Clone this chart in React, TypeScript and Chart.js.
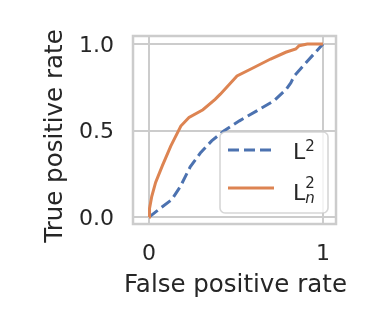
import React, { useEffect, useRef } from "react";
import { Chart, registerables } from "chart.js";

Chart.register(...registerables);

// ROC curves: false positive rate (x) vs true positive rate (y)
const l2FalsePositive = [0, 0.064, 0.13, 0.18, 0.237, 0.295, 0.36, 0.43, 0.52, 0.622, 0.719, 0.79, 0.815, 0.835, 0.91, 1];
const l2TruePositive = [0, 0.05, 0.1, 0.176, 0.29, 0.37, 0.44, 0.497, 0.556, 0.615, 0.672, 0.74, 0.775, 0.815, 0.9, 1];

const ln2FalsePositive = [0, 0.003, 0.016, 0.038, 0.077, 0.125, 0.183, 0.23, 0.31, 0.38, 0.41, 0.506, 0.603, 0.699, 0.786, 0.844, 0.863, 0.91, 1];
const ln2TruePositive = [0, 0.05, 0.12, 0.2, 0.297, 0.41, 0.526, 0.575, 0.62, 0.68, 0.71, 0.815, 0.864, 0.913, 0.952, 0.971, 0.99, 1, 1];

const xTickValues = [0, 1];
const xTickLabels = ["0", "1"];
const yTickValues = [0, 0.5, 1];
const yTickLabels = ["0.0", "0.5", "1.0"];

const xTitle = "False positive rate";
const yTitle = "True positive rate";

const FONT = "'DejaVu Sans', 'Liberation Sans', sans-serif";
const TEXT = "#262626";
const GRID = "#cccccc";
const BLUE = "#4c72b0";
const ORANGE = "#dd8452";

type Part = { text: string; size: number; dy: number; italic?: boolean; overlap?: boolean };

// Legend labels as small math-like runs: base letter, superscript, subscript
const legendEntries: { color: string; dash: number[]; parts: Part[] }[] = [
  {
    color: BLUE,
    dash: [11, 5],
    parts: [
      { text: "L", size: 22, dy: 0 },
      { text: "2", size: 15, dy: -8 },
    ],
  },
  {
    color: ORANGE,
    dash: [],
    parts: [
      { text: "L", size: 22, dy: 0 },
      { text: "n", size: 15, dy: 3, italic: true, overlap: true },
      { text: "2", size: 15, dy: -12 },
    ],
  },
];

const zip = (xs: number[], ys: number[]) => xs.map((x, i) => ({ x, y: ys[i] }));

const framePlugin = {
  id: "frame",
  afterDatasetsDraw(chart: any) {
    const { ctx, chartArea } = chart;
    ctx.save();
    ctx.strokeStyle = GRID;
    ctx.lineWidth = 2.5;
    ctx.strokeRect(chartArea.left, chartArea.top, chartArea.right - chartArea.left, chartArea.bottom - chartArea.top);
    ctx.restore();
  },
};

// Axis titles drawn at full size (the built-in titles are squeezed to the plot size)
const axisTitlePlugin = {
  id: "axisTitles",
  afterDraw(chart: any) {
    const { ctx, chartArea } = chart;
    ctx.save();
    ctx.font = `24.5px ${FONT}`;
    ctx.fillStyle = TEXT;
    ctx.textAlign = "center";
    ctx.textBaseline = "middle";
    ctx.fillText(xTitle, (chartArea.left + chartArea.right) / 2 + 1, chart.height - 44);
    ctx.translate(56, (chartArea.top + chartArea.bottom) / 2 + 6);
    ctx.rotate(-Math.PI / 2);
    ctx.fillText(yTitle, 0, 0);
    ctx.restore();
  },
};

const mathLegendPlugin = {
  id: "mathLegend",
  afterDraw(chart: any) {
    const { ctx, chartArea } = chart;
    const right = chartArea.right - 8;
    const bottom = chartArea.bottom - 11;
    const left = right - 108;
    const top = bottom - 81;
    ctx.save();
    ctx.beginPath();
    (ctx as any).roundRect(left, top, right - left, bottom - top, 5);
    ctx.fillStyle = "rgba(255,255,255,0.8)";
    ctx.fill();
    ctx.strokeStyle = "rgba(204,204,204,0.8)";
    ctx.lineWidth = 1.6;
    ctx.stroke();

    const rowY = [top + 18, top + 56];
    const baseY = [top + 27, top + 68];
    legendEntries.forEach((entry, i) => {
      ctx.beginPath();
      ctx.setLineDash(entry.dash);
      ctx.lineCap = "butt";
      ctx.strokeStyle = entry.color;
      ctx.lineWidth = 3;
      ctx.moveTo(left + 8, rowY[i]);
      ctx.lineTo(left + 54, rowY[i]);
      ctx.stroke();
      ctx.setLineDash([]);

      ctx.fillStyle = TEXT;
      ctx.textBaseline = "alphabetic";
      ctx.textAlign = "left";
      let x = left + 73;
      entry.parts.forEach((p) => {
        ctx.font = `${p.italic ? "italic " : ""}${p.size}px ${FONT}`;
        ctx.fillText(p.text, x, baseY[i] + p.dy);
        if (!p.overlap) x += ctx.measureText(p.text).width;
      });
    });
    ctx.restore();
  },
};

export default function App() {
  const canvasRef = useRef<HTMLCanvasElement | null>(null);

  useEffect(() => {
    const canvas = canvasRef.current;
    if (!canvas) return;
    const chart = new Chart(canvas, {
      type: "line",
      data: {
        datasets: [
          {
            label: "L2",
            data: zip(l2FalsePositive, l2TruePositive),
            borderColor: BLUE,
            borderWidth: 3,
            borderDash: [11, 5],
            pointRadius: 0,
            tension: 0,
            fill: false,
            order: 1,
          },
          {
            label: "Ln2",
            data: zip(ln2FalsePositive, ln2TruePositive),
            borderColor: ORANGE,
            borderWidth: 3,
            pointRadius: 0,
            tension: 0,
            fill: false,
            order: 0,
          },
        ],
      },
      options: {
        animation: false,
        responsive: false,
        devicePixelRatio: 1,
        layout: { padding: { left: 0, top: 36, right: 39, bottom: 0 } },
        plugins: { legend: { display: false }, tooltip: { enabled: false } },
        scales: {
          x: {
            type: "linear",
            min: -0.092,
            max: 1.075,
            afterBuildTicks: (s: any) => {
              s.ticks = xTickValues.map((v) => ({ value: v }));
            },
            afterFit: (s: any) => {
              s.height = 106;
            },
            grid: { color: GRID, lineWidth: 2, drawTicks: false },
            border: { display: false },
            ticks: {
              color: TEXT,
              font: { family: FONT, size: 22 },
              padding: 17,
              maxRotation: 0,
              autoSkip: false,
              callback: (_v: any, i: number) => xTickLabels[i],
            },
            title: { display: false },
          },
          y: {
            type: "linear",
            min: -0.04,
            max: 1.046,
            afterBuildTicks: (s: any) => {
              s.ticks = yTickValues.map((v) => ({ value: v }));
            },
            afterFit: (s: any) => {
              s.width = 133;
            },
            grid: { color: GRID, lineWidth: 2, drawTicks: false },
            border: { display: false },
            ticks: {
              color: TEXT,
              font: { family: FONT, size: 22 },
              padding: 19,
              labelOffset: 2,
              autoSkip: false,
              callback: (_v: any, i: number) => yTickLabels[i],
            },
            title: { display: false },
          },
        },
      },
      plugins: [framePlugin, axisTitlePlugin, mathLegendPlugin],
    } as any);
    return () => chart.destroy();
  }, []);

  return (
    <div style={{ position: "fixed", left: 0, top: 0, width: 375, height: 330, background: "#ffffff" }}>
      <canvas ref={canvasRef} width={375} height={330} style={{ display: "block" }} />
    </div>
  );
}
